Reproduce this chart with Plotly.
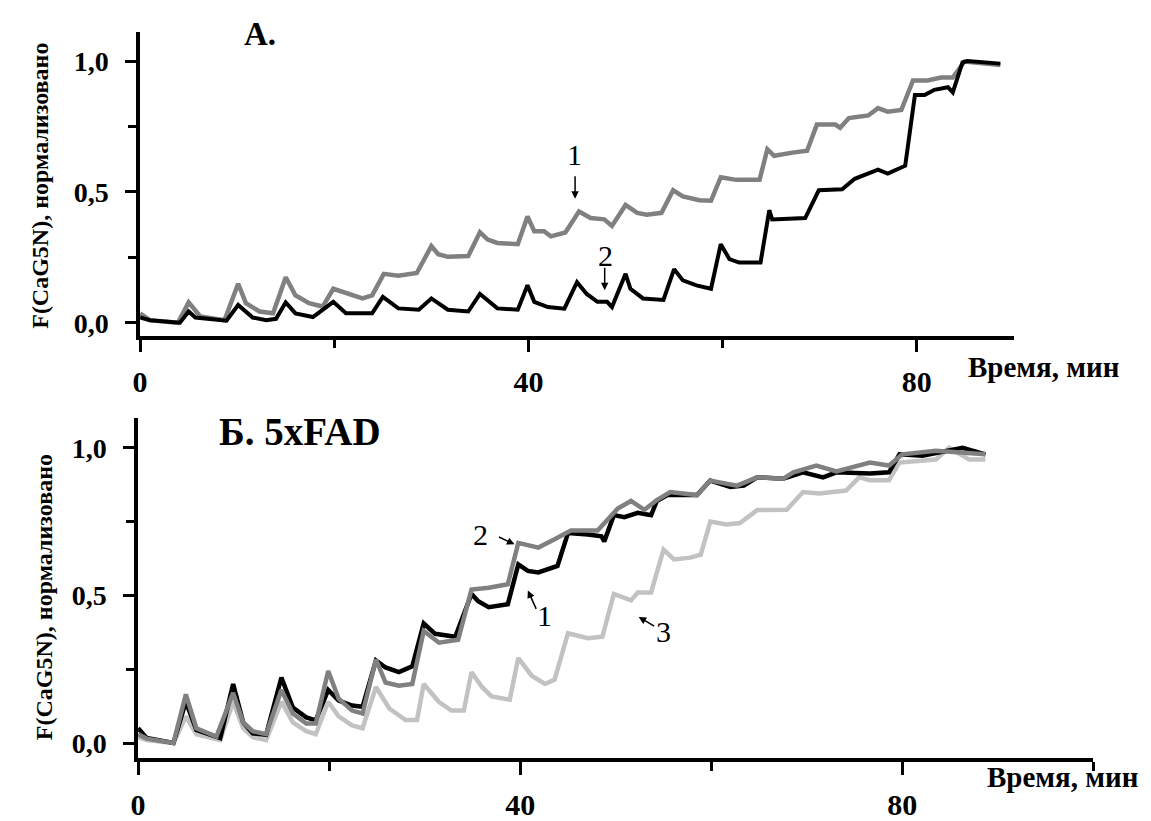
import plotly.graph_objects as go

# ---------------- data (time, min ; normalized F(CaG5N)) ----------------
# Panel A, curve 1 (grey)
a1_time = [0.0, 1.0, 3.9, 5.0, 6.2, 8.7, 10.1, 10.9, 12.3, 13.7, 15.0, 16.0, 17.4, 18.8,
           19.9, 21.2, 22.9, 23.9, 25.1, 26.6, 28.5, 30.0, 30.7, 31.7, 33.8, 35.0, 35.8,
           36.8, 38.9, 39.9, 40.6, 41.6, 42.3, 43.8, 45.2, 46.4, 47.8, 48.6, 50.0, 51.2,
           52.2, 53.7, 54.9, 55.9, 57.6, 58.8, 59.8, 61.4, 63.8, 64.6, 65.3, 67.2, 68.7,
           69.7, 71.6, 72.1, 73.0, 75.0, 76.0, 77.0, 78.4, 79.6, 81.1, 82.5, 83.7, 84.9,
           88.6]
a1_val = [0.036, 0.010, 0.000, 0.078, 0.024, 0.010, 0.149, 0.075, 0.043, 0.036, 0.174,
          0.105, 0.075, 0.062, 0.130, 0.112, 0.093, 0.105, 0.187, 0.180, 0.190, 0.293,
          0.262, 0.252, 0.255, 0.346, 0.318, 0.305, 0.300, 0.406, 0.350, 0.350, 0.330,
          0.345, 0.425, 0.400, 0.395, 0.370, 0.450, 0.420, 0.413, 0.420, 0.506, 0.483,
          0.468, 0.466, 0.556, 0.546, 0.546, 0.663, 0.638, 0.650, 0.657, 0.757, 0.757,
          0.745, 0.782, 0.792, 0.820, 0.806, 0.813, 0.926, 0.926, 0.937, 0.937, 0.998,
          0.985]

# Panel A, curve 2 (black)
a2_time = [0.0, 1.0, 4.1, 5.0, 5.7, 8.9, 10.1, 11.6, 13.0, 14.0, 15.0, 16.0, 17.8, 19.9,
           21.2, 23.9, 25.0, 26.6, 28.7, 30.0, 31.7, 33.8, 35.0, 36.8, 38.9, 39.9, 40.6,
           42.0, 43.7, 45.0, 46.0, 47.1, 48.1, 48.6, 50.0, 50.5, 51.8, 53.9, 55.0, 55.9,
           57.3, 58.8, 59.8, 60.7, 61.7, 63.9, 64.8, 65.1, 68.5, 69.9, 72.3, 73.6, 76.0,
           77.0, 78.8, 79.8, 80.8, 81.8, 83.2, 83.7, 84.7, 85.2, 88.6]
a2_val = [0.020, 0.010, 0.000, 0.043, 0.020, 0.008, 0.068, 0.020, 0.010, 0.015, 0.078,
          0.036, 0.022, 0.080, 0.036, 0.036, 0.099, 0.055, 0.050, 0.093, 0.050, 0.043,
          0.110, 0.055, 0.050, 0.143, 0.080, 0.060, 0.054, 0.155, 0.110, 0.080, 0.080,
          0.060, 0.187, 0.130, 0.093, 0.087, 0.205, 0.162, 0.143, 0.130, 0.300, 0.243,
          0.230, 0.230, 0.430, 0.395, 0.400, 0.506, 0.510, 0.550, 0.585, 0.570, 0.600,
          0.870, 0.870, 0.890, 0.900, 0.880, 0.995, 1.000, 0.990]

# Panel B, curve 1 (black)
b1_time = [0.0, 0.9, 3.7, 5.0, 6.1, 8.6, 9.95, 11.0, 12.0, 13.4, 15.0, 16.2, 17.6, 18.6,
           19.9, 21.0, 22.4, 23.5, 24.9, 25.9, 27.3, 28.7, 29.9, 31.1, 33.2, 34.9, 35.6,
           36.7, 38.7, 39.8, 40.8, 41.9, 43.9, 45.0, 47.1, 48.5, 48.8, 49.8, 50.9, 52.3,
           53.7, 54.3, 55.4, 58.5, 59.9, 62.0, 63.4, 64.8, 67.5, 69.6, 71.7, 73.1, 76.6,
           78.6, 79.7, 82.1, 86.3, 88.7]
b1_val = [0.050, 0.017, 0.000, 0.140, 0.044, 0.017, 0.200, 0.070, 0.033, 0.028, 0.222,
          0.120, 0.087, 0.077, 0.180, 0.144, 0.127, 0.123, 0.280, 0.256, 0.240, 0.260,
          0.405, 0.370, 0.360, 0.505, 0.480, 0.460, 0.470, 0.605, 0.583, 0.578, 0.600,
          0.711, 0.706, 0.700, 0.683, 0.772, 0.765, 0.780, 0.772, 0.820, 0.840, 0.840,
          0.889, 0.867, 0.872, 0.900, 0.895, 0.917, 0.900, 0.917, 0.913, 0.917, 0.978,
          0.973, 1.000, 0.978]

# Panel B, curve 2 (grey)
b2_time = [0.0, 0.9, 3.7, 5.0, 6.1, 8.2, 9.95, 11.0, 12.0, 13.4, 15.0, 16.2, 17.6, 18.6,
           19.9, 21.0, 22.4, 23.5, 24.9, 25.9, 27.3, 28.7, 29.9, 31.5, 33.5, 34.9, 36.7,
           38.7, 39.8, 41.9, 43.6, 45.3, 48.1, 50.2, 51.6, 53.0, 54.3, 55.7, 58.5, 59.9,
           62.7, 64.8, 67.5, 68.6, 71.0, 73.1, 76.6, 78.6, 80.0, 83.5, 88.7]
b2_val = [0.030, 0.015, 0.000, 0.165, 0.050, 0.022, 0.170, 0.070, 0.040, 0.030, 0.180,
          0.100, 0.066, 0.066, 0.244, 0.150, 0.110, 0.100, 0.283, 0.205, 0.194, 0.200,
          0.380, 0.340, 0.350, 0.520, 0.526, 0.538, 0.678, 0.662, 0.690, 0.720, 0.720,
          0.794, 0.820, 0.790, 0.823, 0.850, 0.840, 0.889, 0.872, 0.900, 0.895, 0.917,
          0.940, 0.920, 0.950, 0.940, 0.978, 0.990, 0.978]

# Panel B, curve 3 (light grey)
b3_time = [0.0, 0.9, 3.7, 5.0, 6.1, 8.6, 9.95, 11.0, 12.0, 13.4, 15.0, 16.2, 17.6, 18.6,
           19.9, 21.0, 22.4, 23.5, 24.9, 26.3, 28.0, 29.2, 29.9, 31.5, 32.8, 34.1, 34.9,
           36.0, 37.0, 38.9, 39.8, 41.2, 42.6, 43.6, 45.0, 47.1, 48.6, 49.8, 51.6, 52.3,
           53.7, 55.0, 56.1, 57.8, 58.9, 59.9, 61.6, 63.0, 64.8, 67.9, 69.6, 71.3, 74.1,
           75.5, 76.6, 78.6, 79.7, 81.7, 83.5, 84.9, 87.0, 88.7]
b3_val = [0.020, 0.010, 0.000, 0.090, 0.030, 0.010, 0.140, 0.050, 0.020, 0.010, 0.140,
          0.070, 0.040, 0.030, 0.140, 0.090, 0.060, 0.050, 0.190, 0.117, 0.078, 0.078,
          0.200, 0.139, 0.110, 0.110, 0.240, 0.190, 0.158, 0.147, 0.288, 0.228, 0.200,
          0.215, 0.372, 0.355, 0.360, 0.505, 0.483, 0.510, 0.510, 0.655, 0.622, 0.628,
          0.638, 0.750, 0.740, 0.745, 0.789, 0.790, 0.850, 0.845, 0.855, 0.900, 0.890,
          0.890, 0.950, 0.955, 0.960, 1.000, 0.960, 0.960]

y_tickvals = [0, 0.5, 1.0]
y_ticktext = ["0,0", "0,5", "1,0"]
x_tickvals = [0, 40, 80]
x_ticktext = ["0", "40", "80"]

# ---------------- layout helpers ----------------
W, H = 1151, 821


def px(x):
    return x / W


def py(y):
    return 1 - y / H


FONT = "Liberation Serif, Times New Roman, serif"
BLACK = "#000000"
GREY = "#808080"
LIGHT = "#c2c2c2"

fig = go.Figure()

fig.add_trace(go.Scatter(x=a1_time, y=a1_val, mode="lines", xaxis="x", yaxis="y",
                         line=dict(color=GREY, width=4.5), showlegend=False))
fig.add_trace(go.Scatter(x=a2_time, y=a2_val, mode="lines", xaxis="x", yaxis="y",
                         line=dict(color=BLACK, width=4), showlegend=False))
fig.add_trace(go.Scatter(x=b3_time, y=b3_val, mode="lines", xaxis="x2", yaxis="y2",
                         line=dict(color=LIGHT, width=4.5), showlegend=False))
fig.add_trace(go.Scatter(x=b1_time, y=b1_val, mode="lines", xaxis="x2", yaxis="y2",
                         line=dict(color=BLACK, width=4.5), showlegend=False))
fig.add_trace(go.Scatter(x=b2_time, y=b2_val, mode="lines", xaxis="x2", yaxis="y2",
                         line=dict(color=GREY, width=4.5), showlegend=False))

xaxis_common = dict(
    showline=True, linecolor=BLACK, linewidth=3.5, showgrid=False, zeroline=False,
    ticks="outside", ticklen=13, tickwidth=3, tickcolor=BLACK,
    tickvals=x_tickvals, ticktext=x_ticktext,
    tickfont=dict(family=FONT, size=30, color=BLACK, weight="bold"),
    ticklabelstandoff=4,
)
yaxis_common = dict(
    showline=True, linecolor=BLACK, linewidth=3.5, showgrid=False, zeroline=False,
    ticks="outside", ticklen=11, tickwidth=3, tickcolor=BLACK,
    tickvals=y_tickvals, ticktext=y_ticktext,
    tickfont=dict(family=FONT, size=28, color=BLACK, weight="bold"),
    minor=dict(tickvals=[0.25, 0.75], ticks="outside", ticklen=8, tickwidth=3,
               tickcolor=BLACK),
    ticklabelstandoff=11,
)

fig.update_layout(
    width=W, height=H, autosize=False,
    margin=dict(l=0, r=0, t=0, b=0),
    paper_bgcolor="white", plot_bgcolor="white",
    xaxis=dict(domain=[px(133), px(1013)], range=[0, 90], anchor="y",
               minor=dict(tickvals=[20, 60], ticks="outside", ticklen=9, tickwidth=3,
                          tickcolor=BLACK),
               **xaxis_common),
    yaxis=dict(domain=[py(341), py(33)], range=[-0.049, 1.109], anchor="x",
               **yaxis_common),
    xaxis2=dict(domain=[px(131), px(1093)], range=[0, 100], anchor="y2",
                minor=dict(tickvals=[20, 60, 100], ticks="outside", ticklen=9,
                           tickwidth=3, tickcolor=BLACK),
                **xaxis_common),
    yaxis2=dict(domain=[py(770), py(425)], range=[-0.05, 1.1], anchor="x2",
                **yaxis_common),
)

bold = dict(family=FONT, color=BLACK, weight="bold")
normal = dict(family=FONT, color=BLACK)
C = dict(xanchor="center", yanchor="middle")

annotations = [
    # panel titles
    dict(text="A.", x=px(254), y=py(35), xref="paper", yref="paper", showarrow=False,
         font=dict(size=33, **bold), **C),
    dict(text="Б. 5xFAD", x=px(294), y=py(438), xref="paper", yref="paper",
         showarrow=False, font=dict(size=39, **bold), **C),
    # y-axis titles
    dict(text="F(CaG5N), нормализовано", x=px(32), y=py(189), xref="paper",
         yref="paper", showarrow=False, textangle=-90, font=dict(size=24, **bold), **C),
    dict(text="F(CaG5N), нормализовано", x=px(37), y=py(607), xref="paper",
         yref="paper", showarrow=False, textangle=-90, font=dict(size=24, **bold), **C),
    # x-axis titles
    dict(text="Время, мин", x=px(1043), y=py(373), xref="paper", yref="paper",
         showarrow=False, font=dict(size=29, **bold), **C),
    dict(text="Время, мин", x=px(1062), y=py(790), xref="paper", yref="paper",
         showarrow=False, font=dict(size=29, **bold), **C),
    # curve labels panel A
    dict(text="1", x=44.7, y=0.643, xref="x", yref="y", showarrow=False,
         font=dict(size=30, **normal), **C),
    dict(text="", x=44.8, y=0.474, xref="x", yref="y", showarrow=True, ax=0, ay=-24,
         arrowhead=2, arrowsize=1, arrowwidth=1.5, arrowcolor=BLACK),
    dict(text="2", x=47.95, y=0.256, xref="x", yref="y", showarrow=False,
         font=dict(size=30, **normal), **C),
    dict(text="", x=47.85, y=0.124, xref="x", yref="y", showarrow=True, ax=0, ay=-24,
         arrowhead=2, arrowsize=1, arrowwidth=1.5, arrowcolor=BLACK),
    # curve labels panel B
    dict(text="2", x=35.8, y=0.707, xref="x2", yref="y2", showarrow=False,
         font=dict(size=30, **normal), **C),
    dict(text="", x=39.4, y=0.673, xref="x2", yref="y2", showarrow=True, ax=-17, ay=-8,
         arrowhead=2, arrowsize=1, arrowwidth=1.5, arrowcolor=BLACK),
    dict(text="1", x=42.5, y=0.433, xref="x2", yref="y2", showarrow=False,
         font=dict(size=30, **normal), **C),
    dict(text="", x=40.8, y=0.517, xref="x2", yref="y2", showarrow=True, ax=9, ay=20,
         arrowhead=2, arrowsize=1, arrowwidth=1.5, arrowcolor=BLACK),
    dict(text="3", x=55.0, y=0.377, xref="x2", yref="y2", showarrow=False,
         font=dict(size=30, **normal), **C),
    dict(text="", x=52.4, y=0.427, xref="x2", yref="y2", showarrow=True, ax=17, ay=10,
         arrowhead=2, arrowsize=1, arrowwidth=1.5, arrowcolor=BLACK),
]
fig.update_layout(annotations=annotations)

post = ("document.body.style.margin='0';document.body.style.padding='0';"
        "document.body.style.overflow='hidden';"
        "document.documentElement.style.overflow='hidden';"
        "var gd=document.getElementById('{plot_id}');"
        "gd.style.position='fixed';gd.style.left='0px';gd.style.top='0px';")
fig.write_html("out.html", post_script=post, config={"displayModeBar": False})
